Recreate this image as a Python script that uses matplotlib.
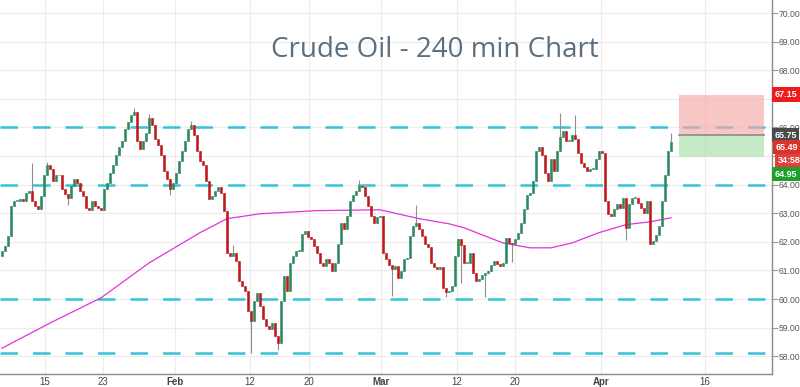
import matplotlib
matplotlib.use("Agg")
import matplotlib.pyplot as plt
import matplotlib.transforms as mtransforms
from matplotlib.patches import Rectangle

plt.rcParams["font.family"] = ["Liberation Sans", "DejaVu Sans"]

# ---------------- data ----------------
closes = [
    61.68, 61.86, 62.20, 63.26, 63.44, 63.44, 63.50, 63.44, 63.72, 63.79,
    63.44, 63.26, 63.16, 63.61, 64.32, 64.67, 64.56, 64.14, 64.32, 64.35,
    63.86, 63.68, 63.54, 63.96, 64.21, 64.04, 63.79, 63.61, 63.19, 63.12,
    63.44, 63.26, 63.19, 63.12, 63.86, 64.04, 64.42, 64.67, 65.02, 65.30,
    65.54, 65.96, 66.18, 66.42, 66.53, 65.54, 65.26, 65.54, 65.82, 66.32,
    66.07, 65.61, 65.37, 65.02, 64.49, 64.21, 63.86, 64.07, 64.42, 64.84,
    65.19, 65.54, 65.96, 66.07, 65.72, 65.19, 64.84, 64.67, 64.14, 63.51,
    63.61, 63.79, 63.93, 63.72, 63.09, 61.61, 61.51, 61.61, 61.33, 60.63,
    60.46, 60.28, 59.58, 59.23, 59.93, 60.21, 59.75, 59.30, 59.05, 58.95,
    59.16, 58.70, 58.46, 59.93, 60.81, 60.28, 61.26, 61.51, 61.68, 61.68,
    62.28, 62.39, 62.18, 62.11, 61.86, 61.61, 61.26, 61.16, 61.40, 61.26,
    60.98, 61.26, 61.93, 62.67, 62.46, 62.91, 63.44, 63.65, 63.79, 63.96,
    63.93, 63.61, 63.26, 62.91, 62.67, 62.88, 62.91, 61.61, 61.40, 61.19,
    61.05, 61.16, 60.74, 60.98, 61.40, 61.44, 62.21, 62.56, 62.67, 62.46,
    62.21, 61.93, 61.82, 61.26, 61.12, 61.05, 61.12, 60.39, 60.25, 60.28,
    60.46, 61.51, 62.11, 61.89, 61.26, 61.26, 61.61, 60.91, 60.63, 60.70,
    60.84, 60.91, 60.98, 61.19, 61.33, 61.23, 61.16, 61.26, 62.14, 61.96,
    61.93, 62.11, 62.32, 62.67, 63.16, 63.65, 63.72, 64.14, 65.19, 65.30,
    65.02, 64.42, 64.14, 64.91, 64.49, 65.19, 65.65, 65.89, 65.54, 65.54,
    65.75, 65.61, 65.12, 64.74, 64.60, 64.49, 64.56, 64.56, 64.91, 65.19,
    65.12, 63.44, 62.98, 62.91, 63.16, 63.33, 63.19, 63.54, 62.49, 63.33,
    63.54, 63.54, 63.37, 63.19, 63.02, 63.44, 61.93, 62.04, 62.25, 62.56,
    63.44, 64.32, 65.19, 65.49,
]
first_open = 61.50

spike_high_idx = [10, 15, 44, 49, 63, 77, 119, 138, 186, 191, 223]
spike_high_val = [64.76, 64.79, 66.68, 66.47, 66.22, 61.89, 64.16, 63.29, 66.50, 66.45, 65.80]
spike_low_idx = [22, 56, 83, 92, 130, 148, 153, 161, 170, 208]
spike_low_val = [63.29, 63.64, 58.11, 58.22, 60.10, 60.07, 60.56, 60.07, 61.30, 62.06]

ma_bars = [0, 16, 33, 49, 66, 75, 86, 105, 126, 139, 149, 154, 167, 176, 183, 190, 199, 208, 216, 223]
ma_vals = [58.28, 59.16, 60.04, 61.26, 62.32, 62.81, 62.98, 63.09, 63.12, 62.81,
           62.63, 62.49, 61.96, 61.79, 61.79, 61.96, 62.32, 62.60, 62.70, 62.84]

level_lines = [66.00, 64.00, 60.00, 58.10]

tick_pos = [14.3, 33.7, 57.7, 82.7, 102.3, 126.3, 151.7, 171.0, 199.7, 234.3]
tick_labels = ["15", "23", "Feb", "12", "20", "Mar", "12", "20", "Apr", "16"]
bold_labels = ["Feb", "Mar", "Apr"]

y_ticks = [58, 59, 60, 61, 62, 63, 64, 65, 66, 67, 68, 69, 70]

stop_price = 67.15
entry_price = 65.75
target_price = 64.95
last_price = 65.49
countdown = "34:58"
box_start, box_end = 225.7, 254.0

title = "Crude Oil - 240 min Chart"

# ---------------- figure ----------------
W, H = 800, 387
fig = plt.figure(figsize=(W / 100, H / 100), dpi=100)
ax = fig.add_axes([0, 13 / H, 772 / W, 1 - 13 / H])
ax.set_xlim(-0.67, 256.67)
ax.set_ylim(57.378, 70.455)

up_c = "#2b8a5e"
dn_c = "#c0171b"
wick_c = "#8f8f8f"

opens = [first_open] + closes[:-1]
highs = [max(o, c) for o, c in zip(opens, closes)]
lows = [min(o, c) for o, c in zip(opens, closes)]
for i, v in zip(spike_high_idx, spike_high_val):
    highs[i] = max(highs[i], v)
for i, v in zip(spike_low_idx, spike_low_val):
    lows[i] = min(lows[i], v)

for i, (o, c, h, l) in enumerate(zip(opens, closes, highs, lows)):
    col = up_c if c >= o else dn_c
    ax.vlines(i, l, h, color=wick_c, lw=0.8, zorder=3)
    bottom = min(o, c)
    height = max(abs(c - o), 0.03)
    ax.add_patch(Rectangle((i - 0.38, bottom), 0.76, height, facecolor=col,
                           edgecolor=col, lw=0.4, zorder=4))

# moving average
ax.plot(ma_bars, ma_vals, color="#e033e0", lw=0.9, zorder=2.6)

# level lines
for lv in level_lines:
    ax.axhline(lv, color="#33c4d8", lw=1.8, dashes=(7, 6), zorder=2.5)

# risk/reward boxes
ax.add_patch(Rectangle((box_start, entry_price), box_end - box_start, stop_price - entry_price,
                       facecolor="#f7a8a8", alpha=0.65, edgecolor="none", zorder=5))
ax.add_patch(Rectangle((box_start, target_price), box_end - box_start, entry_price - target_price,
                       facecolor="#a8e0a8", alpha=0.65, edgecolor="none", zorder=5))
ax.plot([box_start, box_end], [entry_price, entry_price], color="#8a8a8a", lw=1.2, zorder=6)

# grid
ax.set_yticks(y_ticks)
ax.set_yticklabels([f"{v:.2f}" for v in y_ticks])
ax.set_xticks(tick_pos)
ax.set_xticklabels(tick_labels)
for lbl in ax.get_xticklabels():
    if lbl.get_text() in bold_labels:
        lbl.set_fontweight("bold")
ax.grid(True, color="#ececec", lw=0.8, zorder=0)
ax.set_axisbelow(True)

ax.yaxis.tick_right()
ax.tick_params(axis="y", which="both", length=4, color="#999999", labelsize=6.2,
               labelcolor="#555555", pad=1.0)
ax.tick_params(axis="x", which="both", length=0, labelsize=7.0, labelcolor="#444444", pad=2.0)
for s in ["left", "top"]:
    ax.spines[s].set_visible(False)
for s in ["right", "bottom"]:
    ax.spines[s].set_color("#8c8c8c")
    ax.spines[s].set_linewidth(1.0)

# title
ax.text(0.563, 0.865, title, transform=ax.transAxes, ha="center", va="center",
        fontsize=20, color="#5b6f82", family="Open Sans")

# price label boxes on right axis
trans = mtransforms.blended_transform_factory(ax.transAxes, ax.transData)
labels = [
    (stop_price, f"{stop_price:.2f}", "#ee1c1c", 1.003),
    (65.73, f"{entry_price:.2f}", "#4a4a4a", 1.003),
    (65.31, f"{last_price:.2f}", "#d8342c", 1.005),
    (64.83, countdown, "#e0403a", 1.007),
    (64.37, f"{target_price:.2f}", "#1e9e2a", 1.003),
]
for yv, txt, col, xa in labels:
    ax.text(xa, yv, txt, transform=trans, ha="left", va="center", fontsize=6.5,
            fontweight="bold", color="white", clip_on=False, zorder=10,
            bbox=dict(boxstyle="square,pad=0.3", facecolor=col, edgecolor="none"))

fig.savefig("out.png", dpi=100)
